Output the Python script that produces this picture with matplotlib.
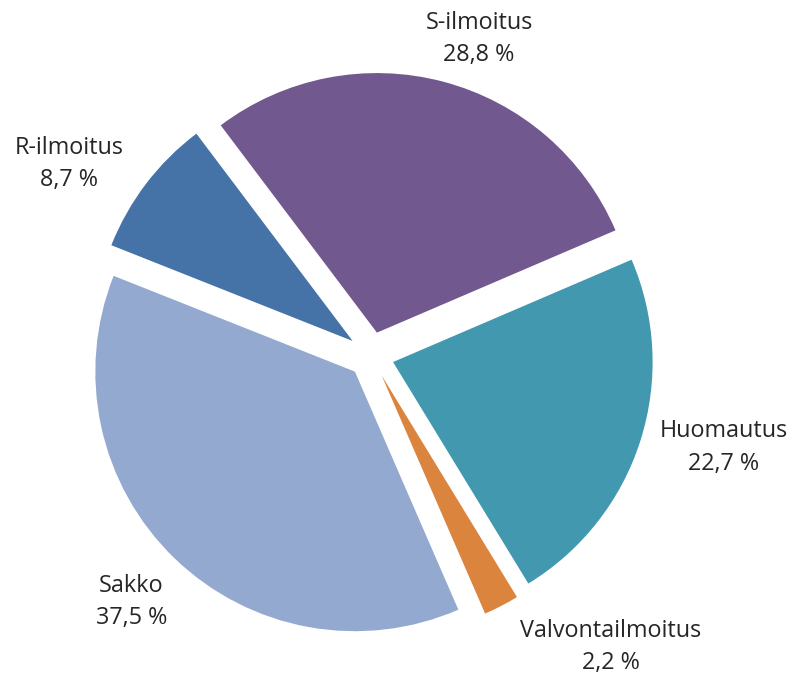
import numpy as np
import matplotlib
matplotlib.use('Agg')
import matplotlib.pyplot as plt

plt.rcParams['font.family'] = ['Open Sans', 'DejaVu Sans']

categories = ['S-ilmoitus', 'Huomautus', 'Valvontailmoitus', 'Sakko', 'R-ilmoitus']
shares = [28.8, 22.7, 2.2, 37.5, 8.7]

purple = '#71588F'
teal = '#4198AF'
orange = '#DB843D'
lightblue = '#93A9CF'
blue = '#4572A7'
colors = [purple, teal, orange, lightblue, blue]
text_color = '#262626'

# label placement (distance in radii, angle tweak in degrees)
label_dist = [1.30, 1.42, 1.47, 1.34, 1.39]
label_turn = [-4, 3, 12, 0, 5]

fig = plt.figure(figsize=(7.92, 6.79), dpi=100)
ax = fig.add_axes([0, 0, 1, 1])

wedges, _ = ax.pie(shares, colors=colors, startangle=127, counterclock=False,
                   explode=[0.09] * len(shares), radius=1.01,
                   wedgeprops=dict(linewidth=0))

for w, name, val, d, t in zip(wedges, categories, shares, label_dist, label_turn):
    mid = np.deg2rad((w.theta1 + w.theta2) / 2 + t)
    txt = name + '\n' + ('%.1f' % val).replace('.', ',') + ' %'
    ax.text(d * np.cos(mid), d * np.sin(mid), txt, ha='center', va='center',
            fontsize=16.8, color=text_color, linespacing=1.45)

ax.set_xlim(-371 / 257, (792 - 371) / 257)
ax.set_ylim(-(679 - 355) / 257, 355 / 257)
ax.set_aspect('equal')
ax.axis('off')

fig.savefig('out.png', dpi=100, facecolor='white')
